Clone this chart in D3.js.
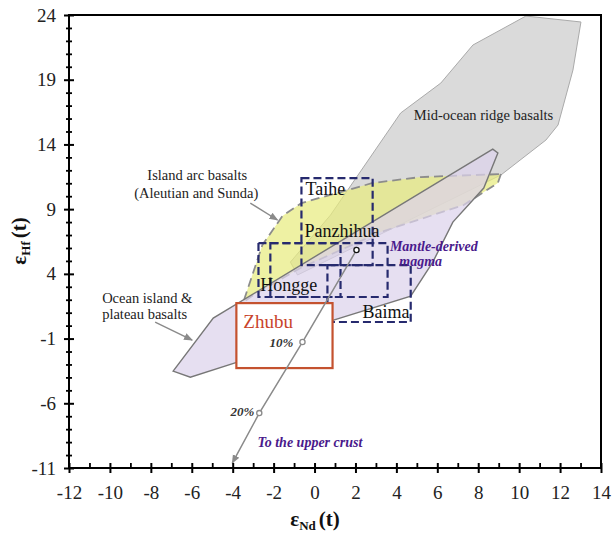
<!DOCTYPE html>
<html><head><meta charset="utf-8">
<script src="https://cdn.jsdelivr.net/npm/d3@7"></script>
<style>
body{margin:0;background:#fff}
svg text{font-family:"Liberation Serif","DejaVu Serif",serif !important}
</style>
</head><body>
<svg id="chart" width="614" height="538"></svg>
<script>
// ---------- data ----------
const xMajorTicks = [-12,-10,-8,-6,-4,-2,0,2,4,6,8,10,12,14];
const yMajorTicks = [24,19,14,9,4,-1,-6,-11];

// field polygons: [eNd, eHf]
const morbField = [[10.33,23.92],[13.02,23.46],[12.63,19.75],[11.9,15.5],[11.31,14.34],[9.11,11.64],
  [-0.83,3.91],[-1.18,4.91],[0.78,8.54],[4.21,16.43],[6.17,18.74],[7.74,21.68]];
const iabField = [[9.11,11.71],[8.96,11.02],[7.29,9.32],[3.23,7.23],[-0.69,4.45],[-2.99,2.36],[-3.48,1.82],
  [-2.55,6.23],[-1.57,8.47],[-0.64,9.47],[2.84,11.02],[5.19,11.48]];
const oibField = [[-6.91,-3.51],[-6.07,-3.98],[-3.77,-2.82],[0.93,0.43],[4.70,2.28],[5.78,4.91],[6.76,8.0],
  [8.27,10.63],[8.96,13.34],[8.71,13.64],[-4.95,0.58]];

// sample ranges: [NdMin, NdMax, HfMin, HfMax]
const boxNames = ["Taihe","Hongge","Panzhihua","Baima"];
const boxRanges = [[-0.64,2.84,4.68,11.40],[-2.74,1.27,2.21,6.38],[-2.16,3.57,2.21,6.38],[0.63,4.70,0.28,4.68]];
const zhubuRange = [-3.82,0.88,-3.28,1.74];

// crustal contamination trend
const mixNd = [2.05,-0.59,-2.70,-4.02];
const mixHf = [5.84,-1.27,-6.76,-10.62];

// ---------- layout ----------
const FONT = "'Liberation Serif','DejaVu Serif',serif";
const svg = d3.select("#chart");
const x = d3.scaleLinear().domain([-12,14]).range([69,601]);
const y = d3.scaleLinear().domain([-11,24]).range([468,15]);
const line = d3.line().x(d=>x(d[0])).y(d=>y(d[1]));

svg.append("defs").append("marker").attr("id","arr").attr("viewBox","0 0 10 10")
  .attr("refX",9).attr("refY",5).attr("markerWidth",9).attr("markerHeight",9)
  .attr("markerUnits","userSpaceOnUse").attr("orient","auto")
  .append("path").attr("d","M0,1 L10,5 L0,9 Z").attr("fill","#8a8a8a");

// fields
svg.append("path").attr("d",line(morbField)+"Z").attr("fill","rgb(204,204,204)").attr("fill-opacity",0.72)
  .attr("stroke","#aaa").attr("stroke-width",1);
svg.append("path").attr("d",line(iabField)+"Z").attr("fill","rgb(232,235,128)").attr("fill-opacity",0.72)
  .attr("stroke","#8c8c8c").attr("stroke-width",1.8).attr("stroke-dasharray","9,5");
svg.append("path").attr("d",line(oibField)+"Z").attr("fill","rgb(221,210,235)").attr("fill-opacity",0.72)
  .attr("stroke","#777").attr("stroke-width",1.4);

// sample boxes
svg.append("g").selectAll("rect").data(boxRanges).join("rect")
  .attr("x",d=>x(d[0])).attr("y",d=>y(d[3]))
  .attr("width",d=>x(d[1])-x(d[0])).attr("height",d=>y(d[2])-y(d[3]))
  .attr("fill","none").attr("stroke","#262a6e").attr("stroke-width",2.2).attr("stroke-dasharray","8,4");

svg.append("rect").attr("x",x(zhubuRange[0])).attr("y",y(zhubuRange[3]))
  .attr("width",x(zhubuRange[1])-x(zhubuRange[0])).attr("height",y(zhubuRange[2])-y(zhubuRange[3]))
  .attr("fill","#fff").attr("stroke","#c4522f").attr("stroke-width",2.2);

// trend line
const mixPts = mixNd.map((v,i)=>[v,mixHf[i]]);
svg.append("path").attr("d",line(mixPts)).attr("fill","none").attr("stroke","#8a8a8a")
  .attr("stroke-width",1.5).attr("marker-end","url(#arr)");
svg.append("circle").attr("cx",x(mixNd[0])).attr("cy",y(mixHf[0])).attr("r",2.6)
  .attr("fill","#fff").attr("stroke","#111").attr("stroke-width",1.3);
svg.append("g").selectAll("circle").data(mixPts.slice(1,3)).join("circle")
  .attr("cx",d=>x(d[0])).attr("cy",d=>y(d[1])).attr("r",2.6)
  .attr("fill","#fff").attr("stroke","#8a8a8a").attr("stroke-width",1.3);

// annotations (anchor in data units)
const annotations = [
  {t:"Mid-ocean ridge basalts", p:[4.85,15.89], a:"start", s:14.5, c:"#222"},
  {t:"Island arc basalts", p:[-5.73,11.25], a:"middle", s:14.5, c:"#222"},
  {t:"(Aleutian and Sunda)", p:[-5.78,9.86], a:"middle", s:14.5, c:"#222"},
  {t:"Ocean island &", p:[-10.38,1.74], a:"start", s:14.5, c:"#222"},
  {t:"plateau basalts", p:[-10.38,0.51], a:"start", s:14.5, c:"#222"},
  {t:"Taihe", p:[-0.44,10.09], a:"start", s:18, c:"#111"},
  {t:"Panzhihua", p:[-0.49,6.84], a:"start", s:18, c:"#111"},
  {t:"Hongge", p:[-2.65,2.67], a:"start", s:18, c:"#111"},
  {t:"Baima", p:[2.35,0.58], a:"start", s:18, c:"#111"},
  {t:"Zhubu", p:[-3.48,-0.19], a:"start", s:19, c:"#c8432b"},
  {t:"10%", p:[-1.03,-1.66], a:"end", s:13, c:"#333", st:"italic", w:"bold"},
  {t:"20%", p:[-2.94,-6.99], a:"end", s:13, c:"#333", st:"italic", w:"bold"},
  {t:"To the upper crust", p:[-2.79,-9.38], a:"start", s:14, c:"#4a1a8c", st:"italic", w:"bold"},
  {t:"Mantle-derived", p:[5.83,5.76], a:"middle", s:14, c:"#4a1a8c", st:"italic", w:"bold"},
  {t:"magma", p:[5.19,4.60], a:"middle", s:14, c:"#4a1a8c", st:"italic", w:"bold"}
];
svg.append("g").selectAll("text").data(annotations).join("text")
  .attr("x",d=>x(d.p[0])).attr("y",d=>y(d.p[1])).attr("text-anchor",d=>d.a)
  .attr("font-size",d=>d.s).attr("fill",d=>d.c).attr("font-family",FONT)
  .attr("font-style",d=>d.st||"normal").attr("font-weight",d=>d.w||"normal").text(d=>d.t);

// pointer arrows
const pointers = [[[-3.14,9.47],[-1.81,8.16]],[[-7.79,0.28],[-5.98,-1.12]]];
svg.append("g").selectAll("path").data(pointers).join("path")
  .attr("d",d=>line(d)).attr("stroke","#8a8a8a").attr("stroke-width",1.4).attr("fill","none")
  .attr("marker-end","url(#arr)");

// axes
const xMinor = d3.range(-12,15,1).filter(v=>!xMajorTicks.includes(v));
const yMinor = d3.range(-11,25,1).filter(v=>!yMajorTicks.includes(v));
const fmt = d=>String(d);
const tickFont = g=>{ g.attr("font-family",FONT); g.selectAll("text").attr("font-size",19).attr("fill","#222")
  .attr("font-family",FONT); };

const gx = svg.append("g").attr("transform",`translate(0,${y(-11)})`)
  .call(d3.axisBottom(x).tickValues(xMajorTicks).tickFormat(fmt).tickSize(5).tickPadding(13));
gx.select(".domain").remove();
gx.selectAll(".tick line").attr("y1",-5).attr("stroke","#000").attr("stroke-width",2);
gx.call(tickFont);
const gxm = svg.append("g").attr("transform",`translate(0,${y(-11)})`)
  .call(d3.axisBottom(x).tickValues(xMinor).tickFormat("").tickSize(-5));
gxm.select(".domain").remove();
gxm.selectAll(".tick line").attr("stroke","#000").attr("stroke-width",1.8);

const gy = svg.append("g").attr("transform",`translate(${x(-12)},0)`)
  .call(d3.axisLeft(y).tickValues(yMajorTicks).tickFormat(fmt).tickSize(5).tickPadding(8));
gy.select(".domain").remove();
gy.selectAll(".tick line").attr("x1",5).attr("stroke","#000").attr("stroke-width",2);
gy.call(tickFont);
const gym = svg.append("g").attr("transform",`translate(${x(-12)},0)`)
  .call(d3.axisLeft(y).tickValues(yMinor).tickFormat("").tickSize(3));
gym.select(".domain").remove();
gym.selectAll(".tick line").attr("x1",3).attr("stroke","#000").attr("stroke-width",1.8);

// frame
svg.append("rect").attr("x",x(-12)).attr("y",y(24)).attr("width",x(14)-x(-12)).attr("height",y(-11)-y(24))
  .attr("fill","none").attr("stroke","#000").attr("stroke-width",2);

// axis titles
const xt = svg.append("text").attr("x",315).attr("y",526).attr("text-anchor","middle").attr("font-family",FONT)
  .attr("font-weight","bold").attr("font-size",21).attr("fill","#111");
xt.append("tspan").text("ε");
xt.append("tspan").attr("font-size",13).attr("dy",4).text("Nd");
xt.append("tspan").attr("dy",-4).attr("dx",3).text("(t)");

const yt = svg.append("text").attr("transform","translate(26,241) rotate(-90)").attr("text-anchor","middle")
  .attr("font-family",FONT).attr("font-weight","bold").attr("font-size",21).attr("fill","#111");
yt.append("tspan").text("ε");
yt.append("tspan").attr("font-size",13).attr("dy",4).text("Hf");
yt.append("tspan").attr("dy",-4).attr("dx",3).text("(t)");
</script>
</body></html>
